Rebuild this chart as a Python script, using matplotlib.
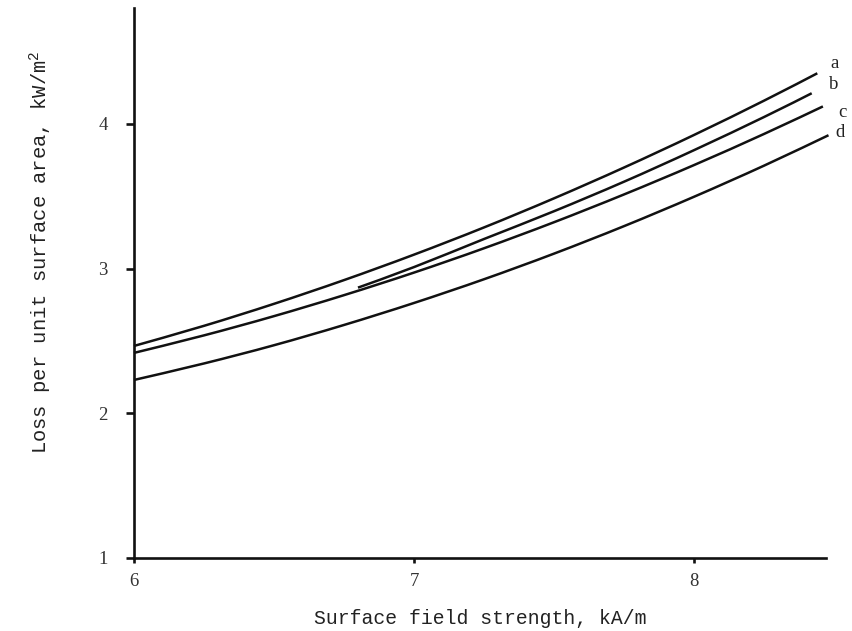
import matplotlib
matplotlib.use("Agg")
import matplotlib.pyplot as plt
from matplotlib.path import Path
from matplotlib.patches import PathPatch

# Surface field strength, kA/m  ->  loss per unit surface area, kW/m^2
x_a = [6.0, 6.25, 6.5, 6.75, 7.0, 7.25, 7.5, 7.75, 8.0, 8.25, 8.44]
loss_a = [2.465, 2.604, 2.756, 2.920, 3.096, 3.284, 3.485, 3.698, 3.923, 4.160, 4.349]

x_b = [6.8, 7.0, 7.25, 7.5, 7.75, 8.0, 8.25, 8.42]
loss_b = [2.868, 3.010, 3.204, 3.396, 3.600, 3.818, 4.047, 4.211]

x_c = [6.0, 6.25, 6.5, 6.75, 7.0, 7.25, 7.5, 7.75, 8.0, 8.25, 8.46]
loss_c = [2.417, 2.538, 2.671, 2.816, 2.972, 3.140, 3.320, 3.512, 3.715, 3.930, 4.120]

x_d = [6.0, 6.25, 6.5, 6.75, 7.0, 7.25, 7.5, 7.75, 8.0, 8.25, 8.48]
loss_d = [2.230, 2.344, 2.470, 2.610, 2.762, 2.926, 3.103, 3.293, 3.496, 3.711, 3.921]

curve_names = ["a", "b", "c", "d"]
name_pos = [(8.50, 4.42), (8.50, 4.27), (8.53, 4.08), (8.52, 3.94)]

x_ticks = [6, 7, 8]
y_ticks = [1, 2, 3, 4]


def smooth_path(xs, ys):
    """Cubic Bezier path passing through every point (Catmull-Rom tangents)."""
    pts = list(zip(xs, ys))
    verts = [pts[0]]
    codes = [Path.MOVETO]
    n = len(pts)
    for i in range(n - 1):
        p0 = pts[i - 1] if i > 0 else pts[i]
        p1 = pts[i]
        p2 = pts[i + 1]
        p3 = pts[i + 2] if i + 2 < n else pts[i + 1]
        c1 = (p1[0] + (p2[0] - p0[0]) / 6.0, p1[1] + (p2[1] - p0[1]) / 6.0)
        c2 = (p2[0] - (p3[0] - p1[0]) / 6.0, p2[1] - (p3[1] - p1[1]) / 6.0)
        verts += [c1, c2, p2]
        codes += [Path.CURVE4, Path.CURVE4, Path.CURVE4]
    return Path(verts, codes)


plt.rcParams["mathtext.fontset"] = "custom"
plt.rcParams["mathtext.rm"] = "Liberation Mono"
plt.rcParams["mathtext.it"] = "Liberation Mono"

fig = plt.figure(figsize=(8.53, 6.31), dpi=100)
ax = fig.add_axes([0.157, 0.1157, 0.811, 0.8716])

ink = "#111111"
for xs, ys in [(x_a, loss_a), (x_b, loss_b), (x_c, loss_c), (x_d, loss_d)]:
    patch = PathPatch(smooth_path(xs, ys), facecolor="none", edgecolor=ink,
                      lw=1.8, capstyle="butt", clip_on=False)
    ax.add_patch(patch)

for name, (px, py) in zip(curve_names, name_pos):
    ax.text(px, py, name, family="Liberation Serif", fontsize=13.5,
            ha="center", va="center", color="#222222", clip_on=False)

ax.set_xlim(6, 8.47)
ax.set_ylim(1, 4.80)
ax.set_xticks(x_ticks)
ax.set_yticks(y_ticks)

for side in ("top", "right"):
    ax.spines[side].set_visible(False)
for side in ("left", "bottom"):
    ax.spines[side].set_linewidth(1.9)
    ax.spines[side].set_color(ink)

ax.tick_params(axis="y", direction="out", length=6, width=1.9, pad=13,
               labelsize=13.5, colors=ink, labelcolor="#333333")
ax.tick_params(axis="x", direction="out", length=3.5, width=1.9, pad=7,
               labelsize=13.5, colors=ink, labelcolor="#333333")
for lab in ax.get_xticklabels() + ax.get_yticklabels():
    lab.set_family("Liberation Serif")

ax.set_xlabel("Surface field strength, kA/m", family="Liberation Mono",
              fontsize=14.2, color="#222222", labelpad=14)
ax.set_ylabel("Loss per unit surface area, kW/m$^{2}$", family="Liberation Mono",
              fontsize=14.8, color="#222222")
ax.yaxis.set_label_coords(-0.115, 0.555)

fig.savefig("out.png", dpi=100, facecolor="white")
